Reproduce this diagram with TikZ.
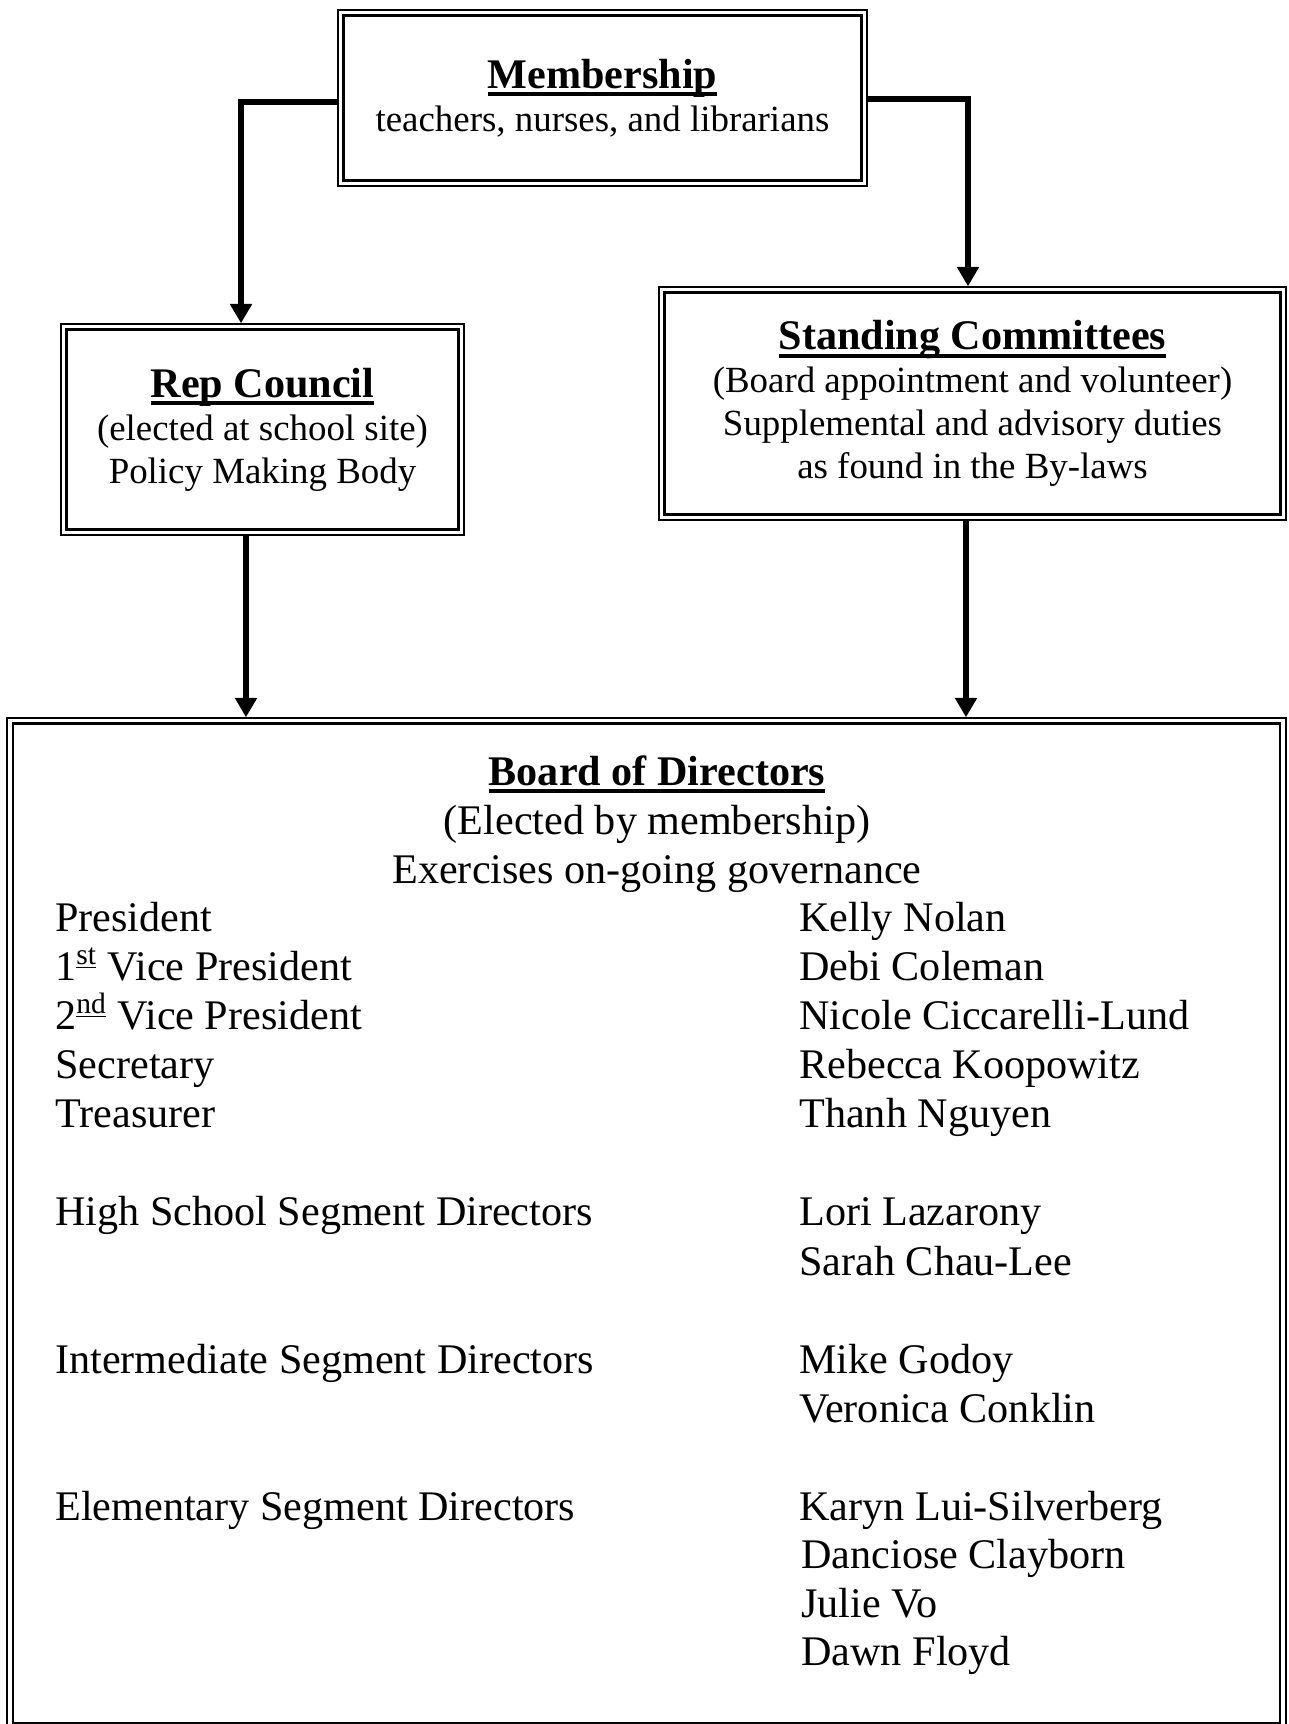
\documentclass[tikz,border=0pt]{standalone}
\usepackage{fontspec}
\setmainfont{Liberation Serif}
\usepackage{tikz}
\usetikzlibrary{arrows.meta}

% thick underline for the headings
\newcommand{\hdul}[1]{\setbox0=\hbox{#1}\rlap{\rule[-4.6pt]{\wd0}{2.3pt}}\box0}
\newcommand{\titlefont}{\fontsize{24}{28}\selectfont\bfseries}

\begin{document}
\begin{tikzpicture}[x=0.02cm,y=-0.02cm,>={Triangle[length=11pt,width=12pt]},
  dbox/.style={draw,line width=1.2pt,double,double distance=1.9pt,outer sep=2pt,inner sep=0pt,align=center,font=\fontsize{21}{24.5}\selectfont},
  conn/.style={->,line width=3.6pt},
  midline/.style={anchor=base,inner sep=0pt,font=\fontsize{24}{28}\selectfont},
  row/.style={anchor=base west,inner sep=0pt,font=\fontsize{24}{28}\selectfont}]
  \useasboundingbox (0,0) rectangle (1288,1724);

  % boxes
  \node[dbox,minimum width=10.47cm,minimum height=3.41cm] (mem) at (602.5,98) {{\titlefont\hdul{Membership}}\\teachers, nurses, and librarians};
  \node[dbox,minimum width=7.95cm,minimum height=4.11cm] (rep) at (262.5,429.5) {{\titlefont\hdul{Rep Council}}\\(elected at school site)\\Policy Making Body};
  \node[dbox,minimum width=12.43cm,minimum height=4.55cm] (stand) at (972.5,403.5) {{\titlefont\hdul{Standing Committees}}\\(Board appointment and volunteer)\\Supplemental and advisory duties\\as found in the By-laws};
  \node[dbox,minimum width=25.47cm,minimum height=20.11cm] (board) at (646.5,1223.4) {};

  % board heading
  \node[midline,font=\titlefont] (bhd) at (657,785) {\hdul{Board of Directors}};
  \node[midline] (belect) at (657,834) {(Elected by membership)};
  \node[midline] (bgov) at (657,883) {Exercises on-going governance};

  % offices
  \node[row] (pres) at (55,931) {President};
  \node[row] (vp1) at (55,980) {1\textsuperscript{\underline{st}} Vice President};
  \node[row] (vp2) at (55,1029) {2\textsuperscript{\underline{nd}} Vice President};
  \node[row] (secr) at (55,1078) {Secretary};
  \node[row] (treas) at (55,1127) {Treasurer};
  \node[row] (hsdir) at (55,1225) {High School Segment Directors};
  \node[row] (imdir) at (55,1373) {Intermediate Segment Directors};
  \node[row] (eldir) at (55,1520) {Elementary Segment Directors};

  % names
  \node[row] (nolan) at (799,931) {Kelly Nolan};
  \node[row] (coleman) at (799,980) {Debi Coleman};
  \node[row] (lund) at (799,1029) {Nicole Ciccarelli-Lund};
  \node[row] (koop) at (799,1078) {Rebecca Koopowitz};
  \node[row] (nguyen) at (799,1127) {Thanh Nguyen};
  \node[row] (lazarony) at (799,1225) {Lori Lazarony};
  \node[row] (chaulee) at (799,1275) {Sarah Chau-Lee};
  \node[row] (godoy) at (799,1373) {Mike Godoy};
  \node[row] (conklin) at (799,1422) {Veronica Conklin};
  \node[row] (silver) at (799,1520) {Karyn Lui-Silverberg};
  \node[row] (clayborn) at (801,1568) {Danciose Clayborn};
  \node[row] (vo) at (801,1617) {Julie Vo};
  \node[row] (floyd) at (801,1665) {Dawn Floyd};

  % connectors
  \coordinate (lturn) at (241,101.7);
  \coordinate (rturn) at (968,99);
  \coordinate (rdown) at (246,0);
  \coordinate (sdown) at (966,0);
  \draw[conn] (mem.west |- lturn) -- (lturn) -- (lturn |- rep.north);
  \draw[conn] (mem.east |- rturn) -- (rturn) -- (rturn |- stand.north);
  \draw[conn] (rdown |- rep.south) -- (rdown |- board.north);
  \draw[conn] (sdown |- stand.south) -- (sdown |- board.north);
\end{tikzpicture}
\end{document}
